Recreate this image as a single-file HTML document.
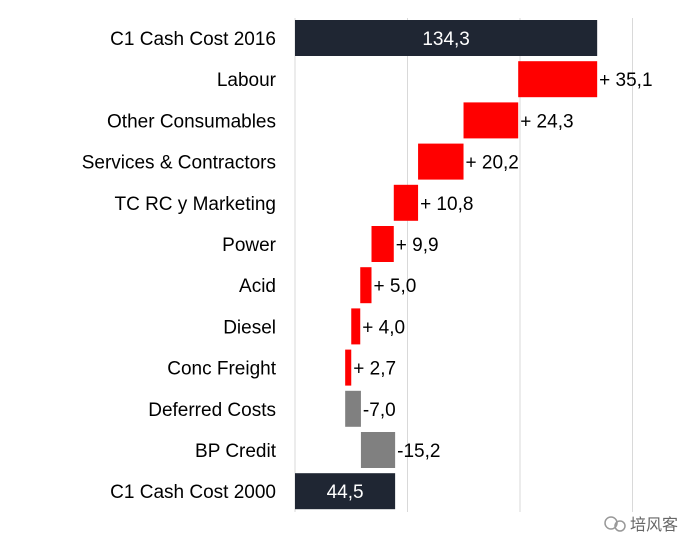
<!DOCTYPE html>
<html><head><meta charset="utf-8"><style>
html,body{margin:0;padding:0;background:#fff;}
svg text{font-family:"Liberation Sans","Noto Sans CJK SC",sans-serif;}
</style></head><body>
<svg id="chart" width="700" height="555" xmlns="http://www.w3.org/2000/svg">
<g id="grid"></g><g id="bars"></g><g id="labels"></g>
<g>
<circle cx="611" cy="523" r="6" fill="none" stroke="#999" stroke-width="1.5"/>
<circle cx="620" cy="526" r="5" fill="none" stroke="#999" stroke-width="1.5"/>
<text x="630" y="530" font-size="16" fill="#666">培风客</text>
</g>
</svg>
<script>
const categories=["C1 Cash Cost 2016","Labour","Other Consumables","Services & Contractors","TC RC y Marketing","Power","Acid","Diesel","Conc Freight","Deferred Costs","BP Credit","C1 Cash Cost 2000"];
const values=[134.3,35.1,24.3,20.2,10.8,9.9,5.0,4.0,2.7,-7.0,-15.2,44.5];
const kinds=["total","inc","inc","inc","inc","inc","inc","inc","inc","dec","dec","total"];
const ticks=[0,50,100,150];
const NS="http://www.w3.org/2000/svg";
const x=v=>295+v*2.25;
const y=i=>38+i*41.2;
const svg=document.getElementById('chart');
function mk(t,a,p){const e=document.createElementNS(NS,t);for(const k in a)e.setAttribute(k,a[k]);p.appendChild(e);return e;}
const g=document.getElementById('grid');
ticks.forEach(t=>{
 const l=mk('line',{x1:x(t),x2:x(t),y1:18,y2:512,stroke:'#d9d9d9','stroke-width':1},g);
 
 
});
const b=document.getElementById('bars'),lb=document.getElementById('labels');
let level=values[0];
categories.forEach((c,i)=>{
 const v=values[i];let lo,hi,fill;
 if(kinds[i]==='total'){lo=0;hi=v;fill='#1f2633';}
 else if(kinds[i]==='inc'){hi=level;lo=level-v;level=lo;fill='#ff0000';}
 else {lo=level;hi=level-v;level=hi;fill='#808080';}
 const r=mk('rect',{x:x(lo),y:y(i)-18,width:x(hi)-x(lo),height:36,fill:fill},b);
 
 
 const t=mk('text',{x:276,y:y(i)+7,'text-anchor':'end','font-size':19,fill:'#000'},lb);
 t.textContent=c;
 
 
 const s=v.toFixed(1).replace('.',',').replace('-','');
 let vt;
 if(kinds[i]==='total'){vt=mk('text',{x:(x(lo)+x(hi))/2,y:y(i)+7,'text-anchor':'middle','font-size':19,fill:'#fff'},lb);vt.textContent=s;}
 else if(kinds[i]==='inc'){vt=mk('text',{x:x(hi)+2,y:y(i)+7,'font-size':19,fill:'#000'},lb);vt.textContent='+ '+s;}
 else {vt=mk('text',{x:x(hi)+2,y:y(i)+7,'font-size':19,fill:'#000'},lb);vt.textContent='-'+s;}
 
 
});
</script>
</body></html>
